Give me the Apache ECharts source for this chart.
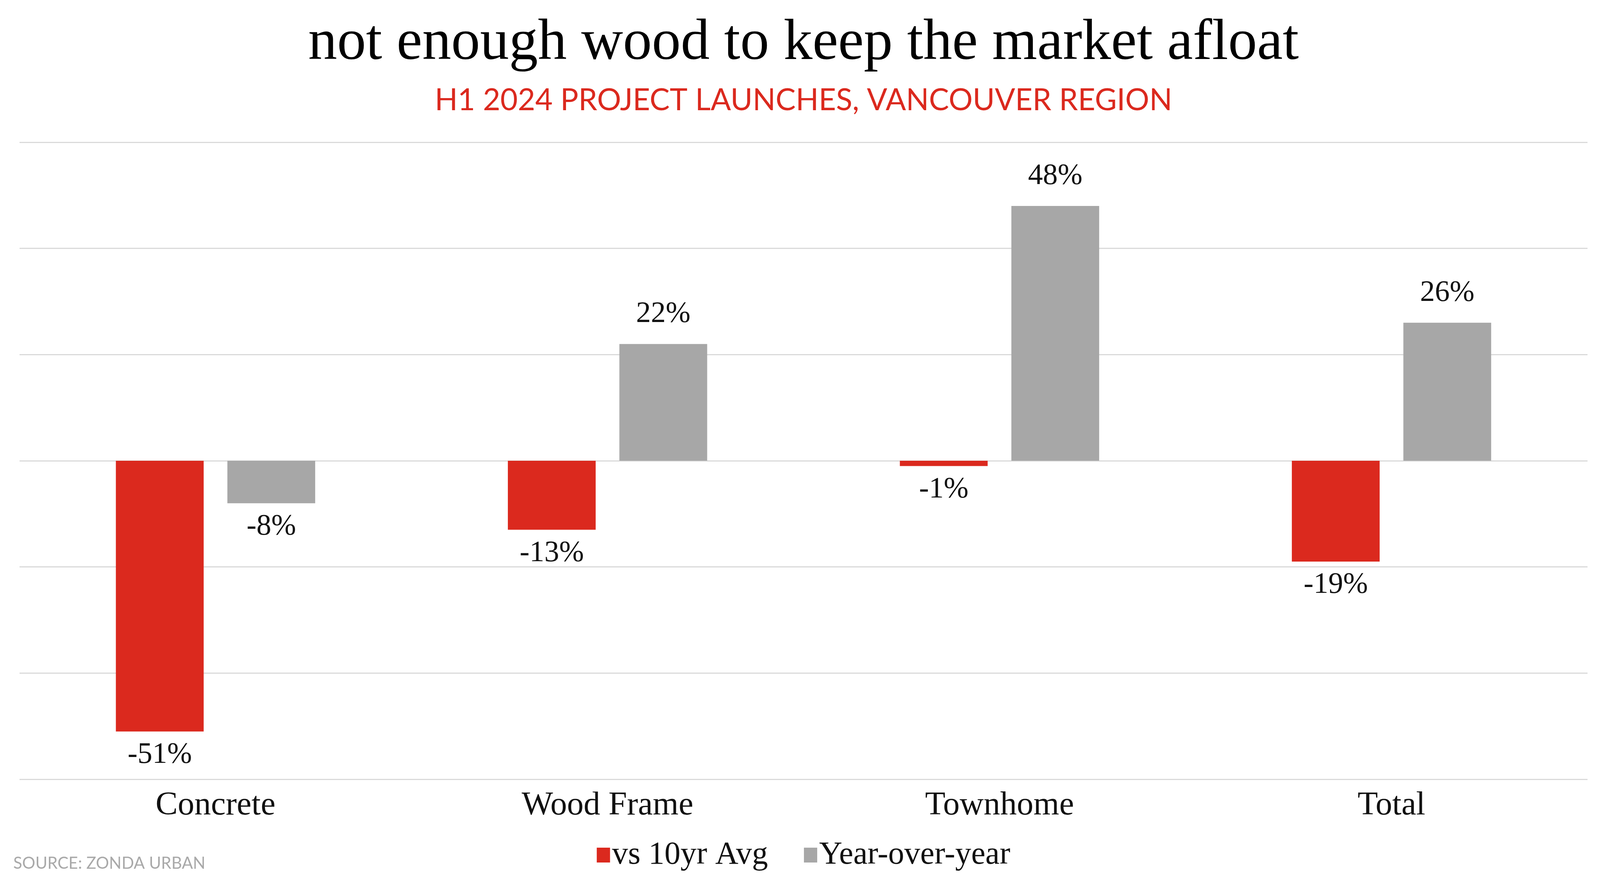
<!DOCTYPE html>
<html>
<head>
<meta charset="utf-8">
<script src="https://cdn.jsdelivr.net/npm/echarts@6/dist/echarts.min.js"></script>
<style>
html,body{margin:0;padding:0;background:#fff;}
#chart{width:4114px;height:2262px;}
</style>
</head>
<body>
<div id="chart"></div>
<script>
const categories = ["Concrete", "Wood Frame", "Townhome", "Total"];
const vs10yrAvg = [-51, -13, -1, -19];
const yearOverYear = [-8, 22, 48, 26];
const seriesNames = ["vs 10yr Avg", "Year-over-year"];
const titleText = "not enough wood to keep the market afloat";
const subtitleText = "H1 2024 PROJECT LAUNCHES, VANCOUVER REGION";
const sourceText = "SOURCE: ZONDA URBAN";

const SERIF = "'Liberation Serif', 'Times New Roman', serif";
const SANS = "Lato, 'Open Sans', sans-serif";
const RED = "#db291e";
const GRAY = "#a7a7a7";

function withLabels(values) {
  return values.map(v => ({
    value: v,
    label: {
      position: v >= 0 ? 'top' : 'bottom',
      distance: v >= 0 ? 38 : 22
    }
  }));
}

const labelStyle = {
  show: true,
  formatter: p => p.value + '%',
  fontFamily: SERIF,
  fontSize: 76,
  lineHeight: 76,
  color: '#111'
};

const chart = echarts.init(document.getElementById('chart'));
chart.setOption({
  animation: false,
  backgroundColor: '#fff',
  title: [
    {
      text: titleText,
      left: 'center',
      top: 27,
      textStyle: { fontFamily: SERIF, fontSize: 148, fontWeight: 'normal', color: '#000', lineHeight: 160 }
    },
    {
      text: subtitleText,
      left: 'center',
      top: 208,
      textStyle: { fontFamily: SANS, fontSize: 77, fontWeight: 'normal', color: RED, lineHeight: 88 }
    }
  ],
  graphic: [
    {
      type: 'text',
      left: 34,
      top: 2188,
      style: { text: sourceText, font: "42px Lato, 'Open Sans', sans-serif", fill: '#a9a9a9' }
    }
  ],
  legend: {
    data: seriesNames,
    left: 'center',
    top: 2141,
    itemWidth: 34,
    itemHeight: 38,
    itemGap: 92,
    icon: 'rect',
    textStyle: { fontFamily: SERIF, fontSize: 82, color: '#111', padding: [0, 0, 0, 0], lineHeight: 84 },
    selectedMode: false
  },
  grid: { left: 50, right: 50, top: 364, bottom: 268, containLabel: false },
  xAxis: {
    type: 'category',
    data: categories,
    axisLine: { show: false },
    axisTick: { show: false },
    axisLabel: { fontFamily: SERIF, fontSize: 85, lineHeight: 84, color: '#111', margin: 26, interval: 0 }
  },
  yAxis: {
    type: 'value',
    min: -60,
    max: 60,
    interval: 20,
    axisLabel: { show: false },
    axisLine: { show: false },
    axisTick: { show: false },
    splitLine: { show: true, lineStyle: { color: '#dadada', width: 3 } }
  },
  series: [
    {
      name: seriesNames[0],
      type: 'bar',
      data: withLabels(vs10yrAvg),
      barWidth: '22.4%',
      barGap: '27%',
      itemStyle: { color: RED },
      label: labelStyle
    },
    {
      name: seriesNames[1],
      type: 'bar',
      data: withLabels(yearOverYear),
      barWidth: '22.4%',
      barGap: '27%',
      itemStyle: { color: GRAY },
      label: labelStyle
    }
  ]
});
</script>
</body>
</html>
